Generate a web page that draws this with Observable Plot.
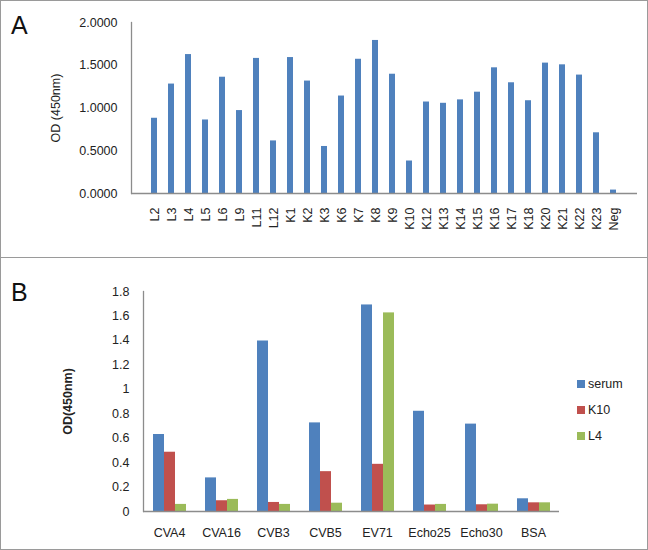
<!DOCTYPE html>
<html><head><meta charset="utf-8">
<script src="https://cdn.jsdelivr.net/npm/d3@7"></script>
<script src="https://cdn.jsdelivr.net/npm/@observablehq/plot@0.6"></script>
<style>
body{margin:0;background:#fff;font-family:"Liberation Sans",Arial,sans-serif;}
#wrap{position:relative;width:648px;height:550px;overflow:hidden;background:#fff}
#border{position:absolute;left:0;top:0;width:648px;height:550px;box-sizing:border-box;border:1px solid #9a9a9a;pointer-events:none}
#divider{position:absolute;left:0;top:257px;width:648px;height:1px;background:#9a9a9a}
.panel{position:absolute;left:0}
.letter{position:absolute;font-size:25px;color:#111;line-height:1}
.leg{position:absolute;left:577px;font-size:12.5px;color:#222;line-height:1}
.leg span{display:inline-block;width:8px;height:8px;margin-right:3px;vertical-align:0px}
</style></head>
<body>
<div id="wrap">
  <div id="panelA" class="panel" style="top:0"></div>
  <div id="panelB" class="panel" style="top:258px"></div>
  <div class="letter" style="left:11px;top:13px">A</div>
  <div class="letter" style="left:11px;top:280px">B</div>
  <div id="legend"></div>
  <div id="divider"></div>
  <div id="border"></div>
</div>
<script>
// Panel A data
const samples = ["L2","L3","L4","L5","L6","L9","L11","L12","K1","K2","K3","K6","K7","K8","K9","K10","K12","K13","K14","K15","K16","K17","K18","K20","K21","K22","K23","Neg"];
const odA = [0.88,1.28,1.625,0.86,1.36,0.97,1.58,0.615,1.59,1.315,0.55,1.14,1.57,1.79,1.395,0.38,1.07,1.055,1.095,1.185,1.47,1.295,1.085,1.525,1.505,1.385,0.71,0.04];
const ticksA = [0, 0.5, 1, 1.5, 2];

// Panel B data
const viruses = ["CVA4","CVA16","CVB3","CVB5","EV71","Echo25","Echo30","BSA"];
const seriesNames = ["serum","K10","L4"];
const seriesColors = ["#4f81bd","#c0504d","#9bbb59"];
const serum = [0.63,0.275,1.395,0.725,1.69,0.82,0.715,0.104];
const k10 = [0.485,0.088,0.074,0.326,0.386,0.053,0.055,0.071];
const l4 = [0.058,0.099,0.058,0.068,1.625,0.058,0.06,0.071];
const ticksB = [0,0.2,0.4,0.6,0.8,1,1.2,1.4,1.6,1.8];

const dataA = samples.map((s, i) => ({sample: s, od: odA[i]}));
const seriesVals = [serum, k10, l4];
const dataB = [];
viruses.forEach((v, i) => seriesNames.forEach((s, j) => dataB.push({virus: v, series: s, od: seriesVals[j][i]})));

const axisColor = "#8c8c8c";
const textStyle = {fontFamily: "'Liberation Sans', Arial, sans-serif", fontSize: "12.5px", color: "#222", background: "transparent", overflow: "visible"};

const plotA = Plot.plot({
  width: 648, height: 257,
  marginTop: 22, marginBottom: 64, marginLeft: 131, marginRight: 11,
  style: textStyle,
  x: {domain: samples, padding: 0.62, label: null},
  y: {domain: [0, 2], label: null},
  marks: [
    Plot.barY(dataA, {x: "sample", y: "od", fill: "#4f81bd"}),
    Plot.ruleY([0], {stroke: axisColor, strokeWidth: 1.3}),
    Plot.frame({anchor: "left", stroke: axisColor, strokeWidth: 1.3}),
    Plot.axisX({tickSize: 0, tickRotate: -90, tickPadding: 14, label: null}),
    Plot.axisY({ticks: ticksA, tickFormat: d => d.toFixed(4), tickSize: 0, tickPadding: 14, label: null}),
    Plot.axisY({ticks: [], label: "OD (450nm)", labelArrow: "none", labelAnchor: "center", labelOffset: 80})
  ]
});
document.getElementById("panelA").appendChild(plotA);

const plotB = Plot.plot({
  width: 648, height: 292,
  marginTop: 33, marginBottom: 39, marginLeft: 141, marginRight: 88,
  style: textStyle,
  fx: {domain: viruses, padding: 0, label: null},
  x: {domain: seriesNames, axis: null, paddingInner: 0, paddingOuter: 0.74},
  y: {domain: [0, 1.8], label: null},
  color: {domain: seriesNames, range: seriesColors},
  marks: [
    Plot.barY(dataB, {fx: "virus", x: "series", y: "od", fill: "series"}),
    Plot.ruleY([0], {stroke: axisColor, strokeWidth: 1.3}),
    Plot.frame({anchor: "left", stroke: axisColor, strokeWidth: 1.3, facetAnchor: "left"}),
    Plot.axisFx({anchor: "bottom", tickSize: 0, tickPadding: 17, label: null}),
    Plot.axisY({ticks: ticksB, tickFormat: d => String(+d.toFixed(1)), tickSize: 0, tickPadding: 14, label: null}),
    Plot.axisY({ticks: [], label: "OD(450nm)", labelArrow: "none", labelAnchor: "center", labelOffset: 80, fontWeight: "bold"})
  ]
});
document.getElementById("panelB").appendChild(plotB);

// Legend
const legend = document.getElementById("legend");
const legTops = [378, 404, 430];
seriesNames.forEach((s, i) => {
  const d = document.createElement("div");
  d.className = "leg";
  d.style.top = legTops[i] + "px";
  d.innerHTML = `<span style="background:${seriesColors[i]}"></span>${s}`;
  legend.appendChild(d);
});
</script>
</body></html>
